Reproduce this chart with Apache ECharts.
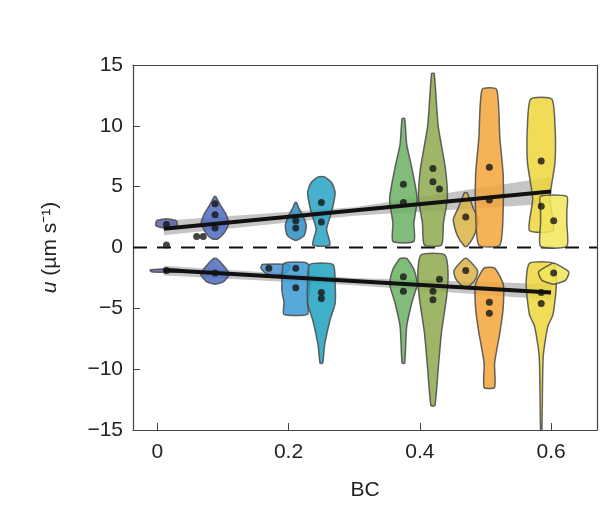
<!DOCTYPE html>
<html><head><meta charset="utf-8">
<script src="https://cdn.jsdelivr.net/npm/echarts@6/dist/echarts.min.js"></script>
<style>html,body{margin:0;background:#fff}#c{width:605px;height:513px}</style>
</head><body><div id="c"></div>
<script>
// violins: centre BC, colour, profile [u, half width in BC units]
var violinX = [0.014, 0.088, 0.211, 0.25, 0.375, 0.42, 0.47, 0.506, 0.585, 0.604,
               0.014, 0.088, 0.18, 0.211, 0.25, 0.375, 0.42, 0.47, 0.506, 0.585, 0.604];
var violinColors = ['#5b63ad', '#4d6cc0', '#2e8ec2', '#27a3c4', '#6bb064', '#8ea94e', '#d9b245', '#f5a53a', '#eed63a', '#f2e65a',
                    '#5b63ad', '#4d6cc0', '#4a8fd2', '#3b9ad3', '#1fa2bf', '#6bb064', '#8ea94e', '#d9b245', '#f5a53a', '#eed63a', '#f2e65a'];
var violinProfiles = [
  [[1.6,0.004],[1.8,0.016],[2.2,0.015],[2.35,0.002]],
  [[0.7,0.004],[1.2,0.014],[2,0.021],[2.8,0.016],[3.5,0.008],[4.2,0.001]],
  [[0.6,0.002],[1,0.013],[1.8,0.016],[2.6,0.011],[3.2,0.005],[3.7,0.001]],
  [[0.2,0.013],[1.5,0.008],[3,0.016],[4.5,0.021],[5.3,0.016],[5.8,0.005]],
  [[0.5,0.016],[2,0.016],[4,0.021],[6.5,0.013],[8.5,0.005],[10.6,0.002]],
  [[0.2,0.013],[2,0.016],[4,0.022],[6.5,0.019],[10,0.008],[14.3,0.002]],
  [[0.1,0.002],[1,0.013],[2.3,0.019],[3.3,0.011],[4.5,0.002]],
  [[0.2,0.016],[3,0.021],[6,0.021],[9,0.016],[13,0.011]],
  [[1.4,0.018],[4,0.013],[7,0.021],[10,0.021],[12.2,0.016]],
  [[0.1,0.02],[2,0.02],[3,0.02],[4.2,0.02]],
  [[-1.75,0.002],[-1.85,0.025],[-2.0,0.023],[-2.05,0.002]],
  [[-0.9,0.002],[-1.5,0.013],[-2.2,0.022],[-2.8,0.013],[-3.0,0.002]],
  [[-1.4,0.02],[-1.7,0.022],[-2.1,0.015],[-2.3,0.002]],
  [[-1.3,0.018],[-2.5,0.021],[-3.6,0.021],[-4.5,0.018],[-5.5,0.018]],
  [[-1.4,0.018],[-3,0.021],[-4.6,0.021],[-6,0.013],[-8,0.005],[-9.5,0.002]],
  [[-0.9,0.005],[-1.8,0.016],[-3,0.021],[-4.5,0.013],[-6.5,0.005],[-9.5,0.002]],
  [[-0.6,0.018],[-2,0.023],[-4,0.021],[-7,0.013],[-10,0.008],[-13,0.003]],
  [[-0.9,0.002],[-1.9,0.018],[-2.6,0.015],[-3.3,0.002]],
  [[-1.7,0.008],[-3,0.021],[-5,0.021],[-7,0.016],[-9.5,0.008],[-11.5,0.008]],
  [[-1.3,0.018],[-3,0.023],[-5.5,0.018],[-6.5,0.01],[-9,0.003],[-15,0.001]],
  [[-1.3,0.002],[-2.0,0.023],[-2.7,0.018],[-3.0,0.002]]
];
var medians = [[0.014,1.9],[0.014,0.2],[0.06,0.9],[0.07,0.9],[0.088,2.7],[0.088,1.6],[0.088,3.6],[0.211,2.2],[0.211,1.6],[0.25,3.7],[0.25,2.1],
  [0.375,5.2],[0.375,3.7],[0.42,6.5],[0.42,5.4],[0.43,4.8],[0.47,2.5],[0.506,6.6],[0.506,3.9],[0.585,7.1],[0.585,3.4],[0.604,2.2],
  [0.014,-1.9],[0.088,-2.1],[0.17,-1.7],[0.211,-1.7],[0.211,-3.3],[0.25,-3.7],[0.25,-4.2],[0.375,-2.4],[0.375,-3.6],[0.42,-4.3],[0.42,-3.6],[0.43,-2.6],
  [0.47,-1.9],[0.506,-4.5],[0.506,-5.4],[0.585,-3.7],[0.585,-4.6],[0.604,-2.1]];
var fitUp = [[0.01,1.55],[0.6,4.6]];
var fitDown = [[0.01,-1.85],[0.6,-3.7]];
var bandUp = [[0.01,1.0],[0.3,2.6],[0.6,3.6],[0.6,5.8],[0.3,3.3],[0.01,2.2]];
var bandDown = [[0.01,-1.5],[0.3,-2.5],[0.6,-3.0],[0.6,-4.3],[0.3,-3.1],[0.01,-2.3]];

function polyItem(points, style) {
  return function (params, api) {
    return {type: 'polygon', shape: {points: points.map(function (p) { return api.coord(p); })}, style: style};
  };
}

var axisStyle = {lineStyle: {color: '#444', width: 1.2}, onZero: false};
var chart = echarts.init(document.getElementById('c'));
chart.setOption({
  animation: false,
  grid: {left: 133, right: 8, top: 65, bottom: 83},
  xAxis: [{type: 'value', min: -0.037, max: 0.67, splitLine: {show: false},
    name: 'BC', nameLocation: 'middle', nameGap: 50, nameTextStyle: {fontSize: 21, color: '#222', fontFamily: 'Liberation Sans'},
    axisLine: axisStyle,
    axisTick: {inside: true, length: 7, customValues: [0, 0.2, 0.4, 0.6], lineStyle: {color: '#444'}},
    axisLabel: {customValues: [0, 0.2, 0.4, 0.6], fontSize: 21, color: '#222', margin: 12, fontFamily: 'Liberation Sans',
      formatter: function (v) { return v === 0 ? '0' : String(v); }}},
    {type: 'value', position: 'top', min: -0.037, max: 0.67, axisLine: axisStyle, axisTick: {show: false}, axisLabel: {show: false}, splitLine: {show: false}}],
  yAxis: [{type: 'value', min: -15, max: 15, interval: 5, splitLine: {show: false},
    name: '{i|u} (µm s⁻¹)', nameLocation: 'middle', nameGap: 72, nameRotate: 90,
    nameTextStyle: {fontSize: 21, color: '#222', fontFamily: 'Liberation Sans', rich: {i: {fontStyle: 'italic', fontSize: 21, fontFamily: 'Liberation Sans'}}},
    axisLine: axisStyle,
    axisTick: {inside: true, length: 7, lineStyle: {color: '#444'}},
    axisLabel: {fontSize: 21, color: '#222', margin: 10, fontFamily: 'Liberation Sans',
      formatter: function (v) { return String(v).replace('-', '\u2212'); }}},
    {type: 'value', position: 'right', min: -15, max: 15, axisLine: axisStyle, axisTick: {show: false}, axisLabel: {show: false}, splitLine: {show: false}}],
  series: [
    {type: 'line', data: [[-0.037, 0], [0.67, 0]], symbol: 'none', silent: true,
      lineStyle: {color: '#111', width: 2, type: [14, 10]}, z: 1},
    {type: 'custom', data: [0], renderItem: polyItem(bandUp, {fill: 'rgba(150,150,150,0.55)'}), z: 2},
    {type: 'custom', data: [0], renderItem: polyItem(bandDown, {fill: 'rgba(150,150,150,0.55)'}), z: 2},
    {type: 'custom', data: violinX.map(function (x, i) { return i; }), z: 3,
      renderItem: function (params, api) {
        var i = params.dataIndex, x = violinX[i], prof = violinProfiles[i];
        var right = prof.map(function (p) { return api.coord([x + p[1], p[0]]); });
        var left = prof.slice().reverse().map(function (p) { return api.coord([x - p[1], p[0]]); });
        return {type: 'polygon', shape: {points: right.concat(left), smooth: 0.2},
          style: {fill: violinColors[i], opacity: 0.85, stroke: '#4a4a4a', lineWidth: 1.5}};
      }},
    {type: 'scatter', data: medians, symbolSize: 7, itemStyle: {color: '#151515'}, z: 4},
    {type: 'line', data: fitUp, symbol: 'none', lineStyle: {color: '#111', width: 4}, z: 5},
    {type: 'line', data: fitDown, symbol: 'none', lineStyle: {color: '#111', width: 4}, z: 5}
  ]
});
</script></body></html>
